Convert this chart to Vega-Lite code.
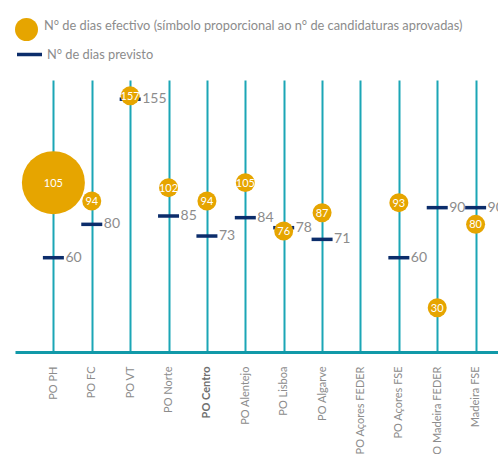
{
  "$schema": "https://vega.github.io/schema/vega-lite/v6.json",
  "width": 499,
  "height": 272,
  "padding": {"left": 15, "top": 18, "right": 0, "bottom": 0},
  "background": "white",
  "config": {"view": {"stroke": null}, "font": "Lato"},
  "data": {
    "values": [
      {"programa": "PO PH", "efetivo": 105, "previsto": 60, "candidaturas": 1100},
      {"programa": "PO FC", "efetivo": 94, "previsto": 80, "candidaturas": 100},
      {"programa": "PO VT", "efetivo": 157, "previsto": 155, "candidaturas": 100},
      {"programa": "PO Norte", "efetivo": 102, "previsto": 85, "candidaturas": 100},
      {"programa": "PO Centro", "efetivo": 94, "previsto": 73, "candidaturas": 100},
      {"programa": "PO Alentejo", "efetivo": 105, "previsto": 84, "candidaturas": 100},
      {"programa": "PO Lisboa", "efetivo": 76, "previsto": 78, "candidaturas": 100},
      {"programa": "PO Algarve", "efetivo": 87, "previsto": 71, "candidaturas": 100},
      {"programa": "PO Açores FEDER", "efetivo": null, "previsto": null, "candidaturas": null},
      {"programa": "PO Açores FSE", "efetivo": 93, "previsto": 60, "candidaturas": 100},
      {"programa": "PO Madeira FEDER", "efetivo": 30, "previsto": 90, "candidaturas": 100},
      {"programa": "Madeira FSE", "efetivo": 80, "previsto": 90, "candidaturas": 100}
    ]
  },
  "encoding": {
    "x": {
      "field": "programa",
      "type": "nominal",
      "sort": null,
      "scale": {
        "type": "point",
        "padding": 1,
        "domain": ["PO PH", "PO FC", "PO VT", "PO Norte", "PO Centro", "PO Alentejo", "PO Lisboa", "PO Algarve", "PO Açores FEDER", "PO Açores FSE", "PO Madeira FEDER", "Madeira FSE"]
      },
      "axis": {
        "title": null,
        "labelAngle": -90,
        "labelFontSize": 11,
        "labelFont": "Lato",
        "labelColor": {"condition": {"test": "datum.value === 'PO Centro'", "value": "#6f6f6f"}, "value": "#8c8c8c"},
        "labelFontWeight": {"condition": {"test": "datum.value === 'PO Centro'", "value": "bold"}, "value": "normal"},
        "labelPadding": 14,
        "ticks": false,
        "domainColor": "#1199a8",
        "domainWidth": 3,
        "grid": true,
        "gridColor": "#1ba6b6",
        "gridWidth": 2
      }
    }
  },
  "layer": [
    {
      "mark": {"type": "point", "shape": "stroke", "size": 441, "strokeWidth": 3.5, "filled": false, "opacity": 1},
      "encoding": {
        "y": {"field": "previsto", "type": "quantitative", "scale": {"domain": [3.5, 166.5], "zero": false, "nice": false}, "axis": null},
        "color": {
          "datum": "N° de dias previsto",
          "scale": {"range": ["#0c2d6b"]},
          "legend": {
            "title": null, "orient": "none", "legendX": 0, "legendY": -40, "padding": 0,
            "symbolType": "stroke", "symbolSize": 625, "symbolStrokeWidth": 3.5,
            "labelFontSize": 12.8, "labelFont": "Lato", "labelColor": "#8c8c8c", "labelOffset": 3, "labelLimit": 0
          }
        }
      }
    },
    {
      "mark": {"type": "text", "align": "left", "baseline": "middle", "dx": 12, "fontSize": 14, "color": "#8c8c8c", "font": "Lato"},
      "encoding": {
        "y": {"field": "previsto", "type": "quantitative"},
        "text": {"field": "previsto", "type": "quantitative"}
      }
    },
    {
      "mark": {"type": "point", "shape": "circle", "filled": true, "opacity": 1, "strokeWidth": 0},
      "encoding": {
        "y": {"field": "efetivo", "type": "quantitative"},
        "size": {"field": "candidaturas", "type": "quantitative", "scale": {"domain": [0, 1100], "range": [0, 3969], "nice": false}, "legend": null},
        "fill": {
          "datum": "N°  de dias efectivo (símbolo proporcional ao n° de candidaturas aprovadas)",
          "scale": {"range": ["#e6a500"]},
          "legend": {
            "title": null, "orient": "none", "legendX": 0, "legendY": -62, "padding": 0,
            "symbolType": "circle", "symbolSize": 529, "symbolStrokeWidth": 0,
            "labelFontSize": 12.8, "labelFont": "Lato", "labelColor": "#8c8c8c", "labelOffset": 6, "labelLimit": 0,
            "labelBaseline": "alphabetic"
          }
        }
      }
    },
    {
      "mark": {"type": "text", "align": "center", "baseline": "middle", "dy": 1, "color": "white", "font": "Lato"},
      "encoding": {
        "y": {"field": "efetivo", "type": "quantitative"},
        "text": {"field": "efetivo", "type": "quantitative"},
        "fontSize": {"condition": {"test": "datum.candidaturas > 500", "value": 16}, "value": 10.5}
      }
    }
  ]
}
